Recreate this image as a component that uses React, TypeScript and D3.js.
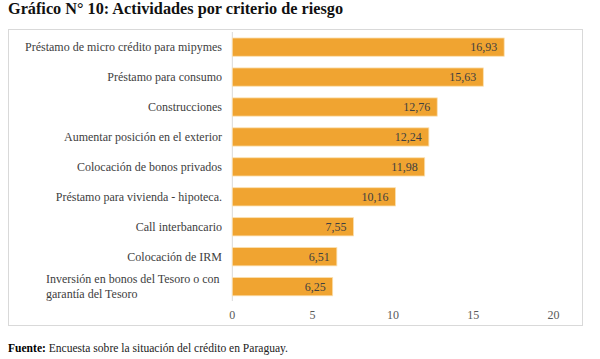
import React from "react";
import * as d3 from "d3";

const categories = [
  "Préstamo de micro crédito para mipymes",
  "Préstamo para consumo",
  "Construcciones",
  "Aumentar posición en el exterior",
  "Colocación de bonos privados",
  "Préstamo para vivienda - hipoteca.",
  "Call interbancario",
  "Colocación de IRM",
  "Inversión en bonos del Tesoro o con|garantía del Tesoro",
];
const values = [16.93, 15.63, 12.76, 12.24, 11.98, 10.16, 7.55, 6.51, 6.25];
const xTicks = [0, 5, 10, 15, 20];

const W = 600;
const H = 359;
const FONT = "Liberation Serif, Times New Roman, serif";

export default function App() {
  const x = d3.scaleLinear().domain([0, 20]).range([232.3, 553.5]);
  const y = d3
    .scaleBand<number>()
    .domain(d3.range(categories.length))
    .range([32.3, 301.5])
    .paddingInner(0.39)
    .paddingOuter(0.19);
  const fmt = (v: number) => v.toFixed(2).replace(".", ",");
  const ts = { fontFamily: FONT } as React.CSSProperties;

  return (
    <svg
      width={W}
      height={H}
      style={{ position: "absolute", left: 0, top: 0, background: "#fff", fontFamily: FONT }}
    >
      <text x={8} y={14} style={ts} fontSize={16} fontWeight="bold" fill="#111" textLength={335} lengthAdjust="spacingAndGlyphs">
        Gráfico N° 10: Actividades por criterio de riesgo
      </text>
      <rect x={8.5} y={29.5} width={574} height={296} fill="none" stroke="#d9d9d9" strokeWidth={1} />
      <line x1={x(0)} x2={x(0)} y1={32} y2={301} stroke="#d9d9d9" strokeWidth={1} />
      {values.map((v, i) => (
        <g key={i}>
          <rect
            x={x(0)}
            y={y(i)!}
            width={x(v) - x(0)}
            height={y.bandwidth()}
            fill="#F0A431"
            stroke="#fbe0b0"
            strokeWidth={0.8}
          />
          <text
            x={x(v) - 7}
            y={y(i)! + y.bandwidth() / 2}
            dy="0.35em"
            textAnchor="end"
            fontSize={12}
            style={ts}
            fill="#404040"
          >
            {fmt(v)}
          </text>
        </g>
      ))}
      {categories.map((c, i) => {
        const lines = c.split("|");
        const cy = y(i)! + y.bandwidth() / 2;
        if (lines.length === 1) {
          return (
            <text key={i} x={222} y={cy} dy="0.35em" textAnchor="end" fontSize={12} style={ts} fill="#404040">
              {c}
            </text>
          );
        }
        return (
          <text key={i} x={46} y={cy - 7.5} fontSize={12} style={ts} fill="#404040">
            {lines.map((l, k) => (
              <tspan key={k} x={46} dy={k === 0 ? "0.35em" : 15}>
                {l}
              </tspan>
            ))}
          </text>
        );
      })}
      {xTicks.map((t) => (
        <text key={t} x={x(t)} y={315} dy="0.35em" textAnchor="middle" fontSize={12} style={ts} fill="#595959">
          {t}
        </text>
      ))}
      <text x={8} y={352} fontSize={11.5} style={ts} fill="#222" textLength={280} lengthAdjust="spacingAndGlyphs">
        <tspan fontWeight="bold" fill="#000">Fuente:</tspan>
        <tspan> Encuesta sobre la situación del crédito en Paraguay.</tspan>
      </text>
    </svg>
  );
}
